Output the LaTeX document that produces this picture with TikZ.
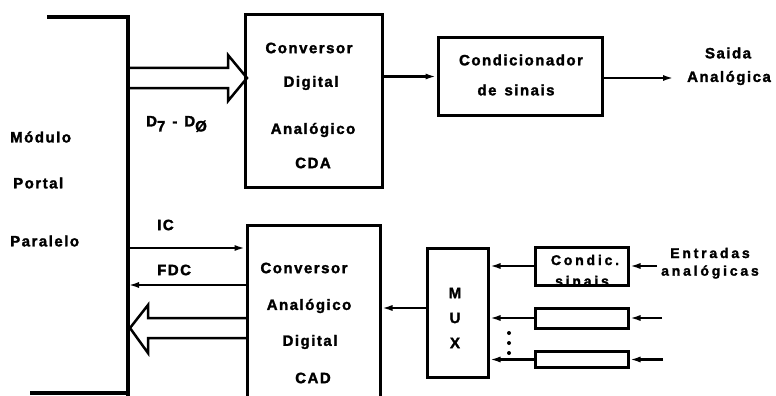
\documentclass[tikz,border=0pt]{standalone}
\usepackage{fontspec}
\setmainfont{Liberation Sans}
\usetikzlibrary{arrows.meta}
\begin{document}
\begin{tikzpicture}[x=1pt,y=-1pt,
  blk/.style={draw, line width=3pt, inner sep=0pt},
  lbl/.style={font=\bfseries\fontsize{15}{17}\selectfont\addfontfeature{LetterSpace=10,FakeBold=1.8}, inner sep=0pt},
  slbl/.style={font=\bfseries\fontsize{14}{16}\selectfont\addfontfeature{LetterSpace=20,FakeBold=1.8}, inner sep=0pt},
  sig/.style={line width=2.2pt, -{Latex[length=11pt,width=6pt]}},
  bus/.style={line width=2.5pt, line join=miter}]
\useasboundingbox (0,0) rectangle (776,396);
\fill[white] (0,0) rectangle (776,396);
% module portal paralelo
\coordinate (mtl) at (47,17);
\coordinate (mtr) at (128,17);
\coordinate (mbr) at (128,400);
\coordinate (mbl) at (30,393);
\coordinate (mbm) at (128,393);
\draw[line width=3.2pt] (mtl) -- (mtr) -- (mbr);
\draw[line width=3.2pt] (mbl) -- (mbm);
\node[lbl, anchor=west] (t1) at (10,137) {Módulo};
\node[lbl, anchor=west] (t2) at (13,183) {Portal};
\node[lbl, anchor=west] (t3) at (10,241) {Paralelo};
% blocks
\node[blk, minimum width=137pt, minimum height=172pt] (cda) at (313.5,101) {};
\node[blk, minimum width=164pt, minimum height=77pt] (cond) at (520,76.5) {};
\node[blk, minimum width=133pt, minimum height=200pt] (cad) at (313.5,325) {};
\node[blk, minimum width=61pt, minimum height=129pt] (mux) at (457.5,312.5) {};
\node[blk, minimum width=93pt, minimum height=38pt] (cs1) at (581.5,266) {};
\node[blk, minimum width=93pt, minimum height=20pt] (cs2) at (581.5,318) {};
\node[blk, minimum width=93pt, minimum height=16pt] (cs3) at (581.5,359.5) {};
% texts in blocks
\node[lbl] (a1) at (309,48) {Conversor};
\node[lbl] (a2) at (311,83) {Digital};
\node[lbl] (a3) at (313,130) {Analógico};
\node[lbl] (a4) at (313,163) {CDA};
\node[lbl] (b1) at (521,60) {Condicionador};
\node[lbl] (b2) at (516,90) {de\hspace{8pt}sinais};
\node[lbl] (c1) at (304,268) {Conversor};
\node[lbl] (c2) at (309,306) {Analógico};
\node[lbl] (c3) at (310,342) {Digital};
\node[lbl] (c4) at (313,378) {CAD};
\node[lbl] (m1) at (455,293) {M};
\node[lbl] (m2) at (455,318) {U};
\node[lbl] (m3) at (455,343) {X};
\node[slbl] (d1) at (585,260) {Condic.};
\node[slbl] (d2) at (582,281) {sinais};
% outer labels
\node[lbl] (s1) at (728,53) {Saida};
\node[lbl] (s2) at (729,78) {Analógica};
\node[slbl] (e1) at (710,253) {Entradas};
\node[slbl] (e2) at (710,272) {analógicas};
\node[lbl, anchor=west] (ic) at (157,225) {IC};
\node[lbl, anchor=west] (fdc) at (157,270) {FDC};
\node[lbl, anchor=west] (dd) at (146,124) {D\raisebox{-5pt}{7}\hspace{7pt}-\hspace{7pt}D\raisebox{-5pt}{Ø}};
% connectors
\draw[sig] (cda.east |- cond.west) -- (cond.west);
\coordinate (out) at (674,78);
\draw[sig] (cond.east |- out) -- (out);
\coordinate (icL) at (128,248);
\draw[sig] (icL) -- (icL -| cad.west);
\coordinate (fdcL) at (128,285);
\draw[sig] (fdcL -| cad.west) -- (fdcL);
\coordinate (mx) at (457.5,308);
\draw[sig] (mx -| mux.west) -- (mx -| cad.east);
\draw[sig] (cs1.west) -- (cs1.west -| mux.east);
\draw[sig] (cs2.west) -- (cs2.west -| mux.east);
\draw[sig] (cs3.west) -- (cs3.west -| mux.east);
\coordinate (in1) at (657,266);
\coordinate (in2) at (662,318);
\coordinate (in3) at (663,359.5);
\draw[sig] (in1) -- (cs1.east);
\draw[sig] (in2) -- (cs2.east);
\draw[sig] (in3) -- (cs3.east);
% buses
\draw[bus] (128,68) -- (228,68) -- (228,55) -- (247,78) -- (228,101) -- (228,88) -- (128,88);
\draw[bus] (247,318) -- (148,318) -- (148,305) -- (130,328) -- (148,353) -- (148,338) -- (247,338);
% dots
\fill (509,333) circle (2pt);
\fill (509,343) circle (2pt);
\fill (509,353) circle (2pt);
\end{tikzpicture}
\end{document}
